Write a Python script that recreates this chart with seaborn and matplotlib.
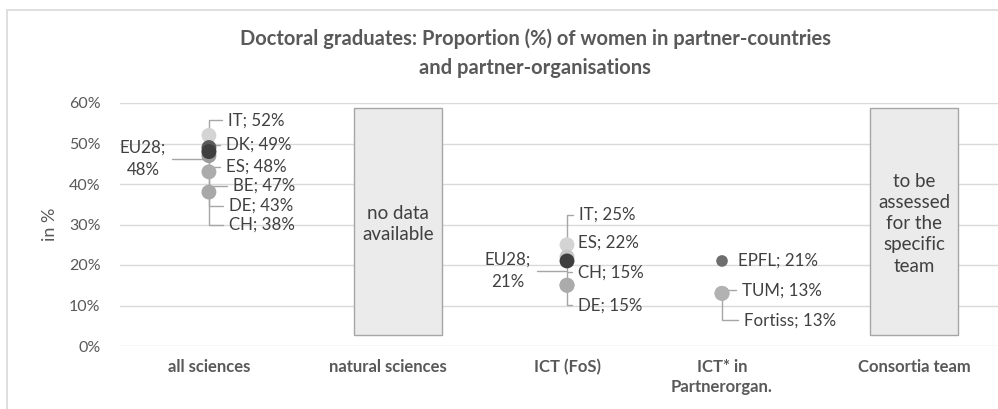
import matplotlib
matplotlib.use("Agg")
import matplotlib.pyplot as plt
import matplotlib.patches as mpatches
import seaborn as sns
import pandas as pd

# ---------------- data ----------------
categories = ["all sciences", "natural sciences", "ICT (FoS)", "ICT* in\nPartnerorgan.", "Consortia team"]

all_sci_labels = ["IT", "DK", "EU28", "ES", "BE", "DE", "CH"]
all_sci_values = [52, 49, 48, 48, 47, 43, 38]

ict_labels = ["IT", "ES", "EU28", "CH", "DE"]
ict_values = [25, 22, 21, 15, 15]

org_labels = ["EPFL", "TUM", "Fortiss"]
org_values = [21, 13, 13]

box_texts = {"natural sciences": "no data\navailable",
             "Consortia team": "to be\nassessed\nfor the\nspecific\nteam"}

title = "Doctoral graduates: Proportion (%) of women in partner-countries\nand partner-organisations"

# ---------------- layout / style ----------------
cat_pos = [0.0, 0.994, 1.989, 2.85, 3.917]
box_pos = {"natural sciences": 1.05, "Consortia team": 3.917}
colors = {"EU28": "#3f3f3f", "DK": "#5a5a5a", "IT": "#d4d4d4", "ES": "#c8c8c8",
          "BE": "#9a9a9a", "DE": "#ababab", "CH": "#a8a8a8",
          "EPFL": "#6e6e6e", "TUM": "#b2b2b2", "Fortiss": "#b2b2b2"}
marker_sizes = {"EPFL": 70}
# label offsets in pixels (dx, dy, ha)
offsets = {
    ("all sciences", "IT"): (19, 15, "left"),
    ("all sciences", "DK"): (17, 3, "left"),
    ("all sciences", "ES"): (17, -15, "left"),
    ("all sciences", "BE"): (24, -30, "left"),
    ("all sciences", "DE"): (20, -34, "left"),
    ("all sciences", "CH"): (20, -33, "left"),
    ("all sciences", "EU28"): (-66, -7, "center"),
    ("ICT (FoS)", "IT"): (12, 30, "left"),
    ("ICT (FoS)", "ES"): (11, 14, "left"),
    ("ICT (FoS)", "EU28"): (-59, -10, "center"),
    ("ICT (FoS)", "CH"): (11, 13, "left"),
    ("ICT (FoS)", "DE"): (11, -20, "left"),
    ("ICT* in\nPartnerorgan.", "EPFL"): (16, 0, "left"),
    ("ICT* in\nPartnerorgan.", "TUM"): (20, 3, "left"),
    ("ICT* in\nPartnerorgan.", "Fortiss"): (22, -27, "left"),
}
no_leader = {("ICT* in\nPartnerorgan.", "EPFL")}

rows = []
for cat, labs, vals in [(categories[0], all_sci_labels, all_sci_values),
                        (categories[2], ict_labels, ict_values),
                        (categories[3], org_labels, org_values)]:
    for l, v in zip(labs, vals):
        rows.append({"cat": cat, "label": l, "value": v,
                     "x": cat_pos[categories.index(cat)],
                     "msize": marker_sizes.get(l, 115)})
df = pd.DataFrame(rows)
order_rank = {"IT": 0, "ES": 1, "CH": 2, "DE": 3, "BE": 4, "DK": 5, "EU28": 6,
              "TUM": 0, "Fortiss": 1, "EPFL": 2}
df["rank"] = df["label"].map(order_rank)
df = df.sort_values("rank")

sns.set_theme(style="white")
plt.rcParams["font.family"] = ["Lato", "DejaVu Sans"]

fig = plt.figure(figsize=(9.98, 4.09), dpi=100)
W, H = 998, 409
ax = fig.add_axes([120 / W, (H - 346) / H, (998 - 120) / W, (346 - 103) / H])

# chart border
fig.patches.append(mpatches.Rectangle((7 / W, -0.1), 1.2, (H - 10) / H + 0.1,
                                      transform=fig.transFigure, fill=False,
                                      edgecolor="#d9d9d9", lw=1.2))

ax.set_xlim(-0.494, 4.383)
ax.set_ylim(0, 60)
for s in ax.spines.values():
    s.set_visible(False)
ax.set_yticks(range(0, 61, 10))
ax.set_yticklabels([f"{v}%" for v in range(0, 61, 10)], fontsize=11.5, color="#595959")
ax.yaxis.grid(True, color="#d9d9d9", lw=1)
ax.set_axisbelow(True)
ax.tick_params(axis="y", length=0, pad=14)
ax.set_xticks(cat_pos)
ax.set_xticklabels(categories, fontsize=12, fontweight="bold", color="#595959",
                   linespacing=1.35)
ax.tick_params(axis="x", length=0, pad=9)
ax.set_ylabel("in %", fontsize=13, color="#595959", labelpad=8)

# boxes
for cat, txt in box_texts.items():
    xc = box_pos[cat]
    ax.add_patch(mpatches.Rectangle((xc - 0.245, 2.6), 0.49, 56.2,
                                    facecolor="#ebebeb", edgecolor="#a6a6a6",
                                    lw=1, zorder=2))
    ax.text(xc, 30.2, txt, ha="center", va="center", fontsize=13.5,
            color="#404040", linespacing=1.3, zorder=3)

# leader lines + labels
for _, r in df.iterrows():
    key = (r["cat"], r["label"])
    dx, dy, ha = offsets[key]
    txt = f"{r['label']};\n{r['value']}%" if r["label"] == "EU28" else f"{r['label']}; {r['value']}%"
    arrow = None
    if key not in no_leader:
        if ha == "left":
            cs = "angle,angleA=180,angleB=90,rad=0"
        else:
            cs = "angle,angleA=0,angleB=90,rad=0"
        arrow = dict(arrowstyle="-", color="#a6a6a6", lw=1,
                     connectionstyle=cs, shrinkA=2, shrinkB=0)
    ax.annotate(txt, xy=(r["x"], r["value"]), xytext=(dx, dy),
                textcoords="offset pixels", ha=ha, va="center",
                fontsize=12.2, color="#404040", linespacing=1.45,
                arrowprops=arrow, zorder=4)

sns.scatterplot(data=df, x="x", y="value", hue="label", palette=colors,
                size="msize", sizes={70: 70, 115: 115},
                edgecolor="none", legend=False, ax=ax, zorder=5)
ax.set_xlabel("")

fig.text(535 / W, (H - 53) / H, title, ha="center", va="center", fontsize=14.5,
         fontweight="bold", color="#595959", linespacing=1.55)

fig.savefig("out.png", dpi=100)
